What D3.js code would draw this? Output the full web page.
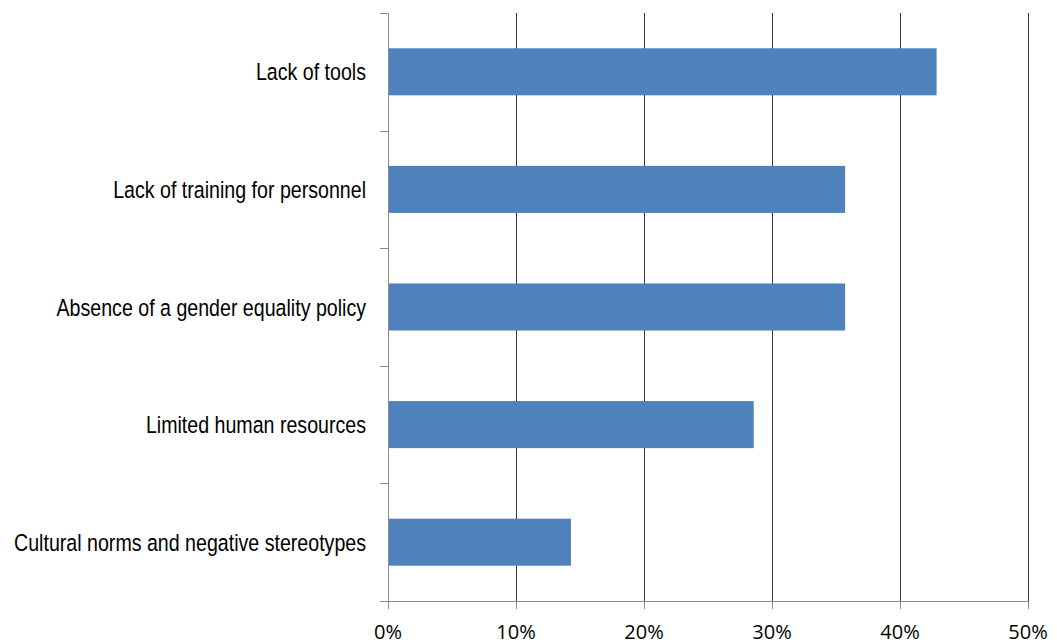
<!DOCTYPE html>
<html><head><meta charset="utf-8">
<script src="https://cdn.jsdelivr.net/npm/d3@7"></script>
<style>body{margin:0;background:#fff}</style>
</head><body>
<svg id="c" width="1057" height="644"></svg>
<script>
const categories = ["Lack of tools","Lack of training for personnel","Absence of a gender equality policy","Limited human resources","Cultural norms and negative stereotypes"];
const values = [42.86, 35.71, 35.71, 28.57, 14.29];
const xTicks = [0,10,20,30,40,50];

const svg = d3.select("#c");
const mLeft = 388, mRight = 1028, mTop = 13, mBottom = 601;
const x = d3.scaleLinear().domain([0,50]).range([mLeft,mRight]);
const y = d3.scaleBand().domain(categories).range([mTop,mBottom]).padding(0);

// gridlines
svg.append("g").selectAll("line").data(xTicks.filter(d=>d>0)).join("line")
  .attr("x1",d=>x(d)+0.5).attr("x2",d=>x(d)+0.5).attr("y1",mTop).attr("y2",mBottom)
  .attr("stroke","#3a3a3a").attr("stroke-width",1);

// bars
const bh = y.bandwidth()*0.4;
svg.append("g").selectAll("rect").data(categories).join("rect")
  .attr("x",x(0)).attr("y",(d)=>y(d)+y.bandwidth()/2-bh/2)
  .attr("width",(d,i)=>x(values[i])-x(0)).attr("height",bh)
  .attr("fill","#4F81BD");

// y axis line and ticks
const ya = svg.append("g");
ya.append("line").attr("x1",mLeft+0.5).attr("x2",mLeft+0.5).attr("y1",mTop).attr("y2",mBottom).attr("stroke","#8c8c8c");
const bounds = categories.map(c=>y(c)).concat([mBottom]);
ya.selectAll("line.t").data(bounds).join("line").attr("class","t")
  .attr("x1",mLeft-8).attr("x2",mLeft).attr("y1",d=>Math.round(d)+0.5).attr("y2",d=>Math.round(d)+0.5).attr("stroke","#8c8c8c");
ya.selectAll("text").data(categories).join("text")
  .attr("transform",d=>`translate(366,${y(d)+y.bandwidth()/2}) scale(0.835,1)`)
  .attr("x",0).attr("y",8.5)
  .attr("text-anchor","end").attr("font-family","'Liberation Sans',Arial,sans-serif")
  .attr("font-size",23.5).attr("fill","#000").text(d=>d);

// x axis
const xa = svg.append("g");
xa.append("line").attr("x1",mLeft).attr("x2",mRight+1).attr("y1",mBottom+0.5).attr("y2",mBottom+0.5).attr("stroke","#8c8c8c");
xa.selectAll("line.t").data(xTicks).join("line").attr("class","t")
  .attr("x1",d=>x(d)+0.5).attr("x2",d=>x(d)+0.5).attr("y1",mBottom).attr("y2",mBottom+8).attr("stroke","#8c8c8c");
xa.selectAll("text").data(xTicks).join("text")
  .attr("x",d=>x(d)).attr("y",639).attr("text-anchor","middle")
  .attr("font-family","'Open Sans',sans-serif").attr("font-size",20).attr("fill","#000")
  .text(d=>d+"%");
</script>
</body></html>
